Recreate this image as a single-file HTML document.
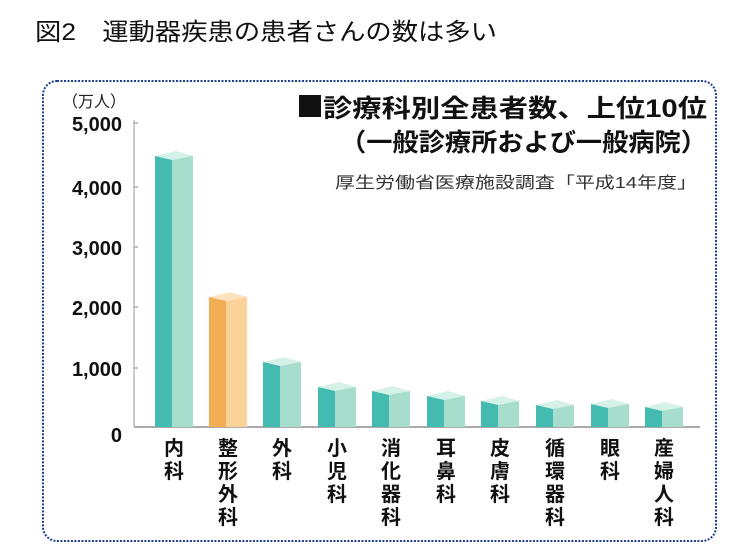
<!DOCTYPE html>
<html><head><meta charset="utf-8"><style>
html,body{margin:0;padding:0;background:#fff;width:737px;height:556px;overflow:hidden}
svg text{font-family:"Liberation Sans","Noto Sans CJK JP",sans-serif}
</style></head><body>
<svg width="737" height="556" viewBox="0 0 737 556" xmlns="http://www.w3.org/2000/svg">
<text x="35" y="40" font-size="24" textLength="462" lengthAdjust="spacingAndGlyphs" fill="#111">図2　運動器疾患の患者さんの数は多い</text>
<rect x="43" y="81" width="673" height="460" rx="14" fill="none" stroke="#1d3d8f" stroke-width="2" stroke-dasharray="2,1.5"/>
<text x="62" y="107" font-size="16" fill="#222">（万人）</text>
<g font-size="20" font-weight="bold" fill="#111" text-anchor="end">
<text x="122" y="131">5,000</text>
<text x="122" y="195">4,000</text>
<text x="122" y="255">3,000</text>
<text x="122" y="315">2,000</text>
<text x="122" y="376">1,000</text>
<text x="122" y="442">0</text>
</g>
<line x1="134" y1="120" x2="134" y2="427" stroke="#bbb" stroke-width="1.5"/>
<g stroke="#aaa" stroke-width="1.5">
<line x1="134" y1="123" x2="138" y2="123"/><line x1="134" y1="187" x2="138" y2="187"/>
<line x1="134" y1="247" x2="138" y2="247"/><line x1="134" y1="307" x2="138" y2="307"/>
<line x1="134" y1="368" x2="138" y2="368"/>
</g>
<line x1="134" y1="427" x2="700" y2="427" stroke="#aaa" stroke-width="2"/>
<g id="bars"></g>
<rect x="299" y="95" width="22" height="22" fill="#111"/>
<g font-size="25" font-weight="bold" fill="#111">
<text x="323" y="117" textLength="384" lengthAdjust="spacingAndGlyphs">診療科別全患者数、上位10位</text>
<text x="340" y="151" textLength="367" lengthAdjust="spacingAndGlyphs">（一般診療所および一般病院）</text>
</g>
<text x="335" y="188" font-size="16" fill="#333" textLength="362" lengthAdjust="spacingAndGlyphs">厚生労働省医療施設調査「平成14年度」</text>
<g font-size="20" font-weight="bold" fill="#111" text-anchor="middle" id="labels"></g>
</svg>
<script>
var tops=[152,293,358,383,387,392,397,401,400,403];
var xs=[155,209,263,318,372,427,481,536,591,645];
var labs=["内科","整形外科","外科","小児科","消化器科","耳鼻科","皮膚科","循環器科","眼科","産婦人科"];
var ns="http://www.w3.org/2000/svg";
var g=document.getElementById("bars"),lg=document.getElementById("labels");
function el(t,a,p){var e=document.createElementNS(ns,t);for(var k in a)e.setAttribute(k,a[k]);p.appendChild(e);return e;}
for(var i=0;i<10;i++){
 var x=xs[i],t=tops[i],o=i==1;
 var d=o?"#f2ad55":"#44bbb0",l=o?"#fdd29a":"#a6ddcc",c=o?"#fde4bf":"#d6f1e8";
 el("rect",{x:x,y:t+4,width:17,height:427-t-4,fill:d},g);
 el("rect",{x:x+17,y:t+4,width:21,height:427-t-4,fill:l},g);
 el("polygon",{points:(x)+","+(t+4)+" "+(x+17)+","+(t+8)+" "+(x+38)+","+(t+4)+" "+(x+21)+","+(t-1),fill:c},g);
 var s=labs[i];
 for(var j=0;j<s.length;j++){var tx=el("text",{x:x+19,y:455+j*23},lg);tx.textContent=s[j];}
}
</script>
</body></html>
